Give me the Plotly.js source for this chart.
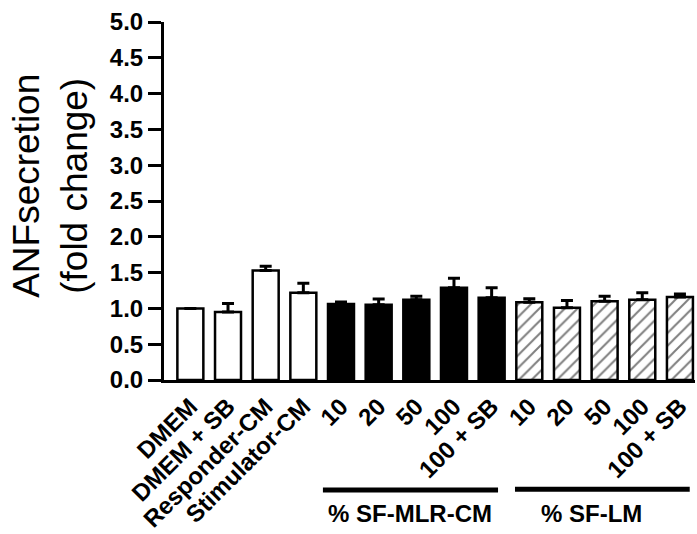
<!DOCTYPE html>
<html>
<head>
<meta charset="utf-8">
<script src="https://cdn.plot.ly/plotly-3.0.1.min.js"></script>
<style>html,body{margin:0;padding:0;background:#fff;}#chart{width:697px;height:534px;}</style>
</head>
<body>
<div id="chart"></div>
<script>
// Data
const tickLabels = ["DMEM", "DMEM + SB", "Responder-CM", "Stimulator-CM",
  "10", "20", "50", "100", "100 + SB",
  "10", "20", "50", "100", "100 + SB"];
const groups = ["control", "control", "control", "control",
  "mlr", "mlr", "mlr", "mlr", "mlr",
  "lm", "lm", "lm", "lm", "lm"];
const values = [1.00, 0.95, 1.53, 1.22, 1.06, 1.05, 1.12, 1.29, 1.15, 1.085, 1.01, 1.10, 1.12, 1.16];
const errors = [0.00, 0.12, 0.06, 0.13, 0.03, 0.08, 0.05, 0.13, 0.14, 0.05, 0.10, 0.07, 0.10, 0.04];
const groupLabels = ["% SF-MLR-CM", "% SF-LM"];

const xs = tickLabels.map((_, i) => i);
const styleFor = {
  control: {color: "#ffffff", shape: ""},
  mlr: {color: "#000000", shape: ""},
  lm: {color: "#ffffff", shape: "/"}
};

function idxOf(g) { return groups.map((v, i) => v === g ? i : -1).filter(i => i >= 0); }

const traces = ["control", "mlr", "lm"].map(g => {
  const idx = idxOf(g);
  const st = styleFor[g];
  const marker = {color: st.color, line: {color: "#000", width: 2.5}};
  if (st.shape) {
    marker.pattern = {shape: st.shape, fgcolor: "#000", bgcolor: "#fff", size: 9, solidity: 0.22, fillmode: "overlay"};
  }
  return {
    type: "bar",
    x: idx.map(i => xs[i]),
    y: idx.map(i => values[i]),
    width: 0.69,
    marker: marker,
    error_y: {
      type: "data",
      array: idx.map(i => errors[i]),
      arrayminus: idx.map(() => 0),
      symmetric: false,
      color: "#000",
      thickness: 3,
      width: 6
    },
    hoverinfo: "skip"
  };
});

const tickFont = {family: "Liberation Sans, Arial, sans-serif", size: 24, color: "#000", weight: "bold"};
const xTickFont = {family: "Liberation Sans, Arial, sans-serif", size: 24, color: "#000", weight: "bold"};
const groupFont = {family: "Liberation Sans, Arial, sans-serif", size: 24, color: "#000", weight: "bold"};

const mlrIdx = idxOf("mlr");
const lmIdx = idxOf("lm");
const mlrSpan = [mlrIdx[0] - 0.48, mlrIdx[mlrIdx.length - 1] + 0.17];
const lmSpan = [lmIdx[0] - 0.38, lmIdx[lmIdx.length - 1] + 0.26];

const layout = {
  width: 697,
  height: 534,
  margin: {l: 164, r: 2, t: 22, b: 154},
  paper_bgcolor: "#fff",
  plot_bgcolor: "#fff",
  showlegend: false,
  barmode: "overlay",
  xaxis: {
    range: [-0.7, 13.4],
    tickmode: "array",
    tickvals: xs,
    ticktext: tickLabels,
    tickangle: -45,
    tickfont: xTickFont,
    showline: true,
    linecolor: "#000",
    linewidth: 3,
    ticks: "",
    showgrid: false,
    zeroline: false,
    fixedrange: true
  },
  yaxis: {
    range: [0, 5],
    dtick: 0.5,
    tick0: 0,
    tickformat: ".1f",
    tickfont: tickFont,
    ticks: "outside",
    ticklen: 13,
    tickwidth: 3,
    tickcolor: "#000",
    showline: true,
    linecolor: "#000",
    linewidth: 3,
    showgrid: false,
    zeroline: false,
    fixedrange: true
  },
  shapes: [
    {type: "line", xref: "x", yref: "paper", x0: mlrSpan[0], x1: mlrSpan[1], y0: -0.307, y1: -0.307,
     line: {color: "#000", width: 5}},
    {type: "line", xref: "x", yref: "paper", x0: lmSpan[0], x1: lmSpan[1], y0: -0.305, y1: -0.305,
     line: {color: "#000", width: 5}}
  ],
  annotations: [
    {text: "ANFsecretion<br>(fold change)", xref: "paper", yref: "paper", x: -0.213, y: 0.542,
     showarrow: false, textangle: -90, xanchor: "center", yanchor: "middle",
     font: {family: "Liberation Sans, Arial, sans-serif", size: 37, color: "#000"}},
    {text: groupLabels[0], xref: "x", yref: "paper", x: (mlrSpan[0] + mlrSpan[1]) / 2, y: -0.374,
     showarrow: false, xanchor: "center", yanchor: "middle", font: groupFont},
    {text: groupLabels[1], xref: "x", yref: "paper", x: (lmSpan[0] + lmSpan[1]) / 2 - 0.3, y: -0.374,
     showarrow: false, xanchor: "center", yanchor: "middle", font: groupFont}
  ]
};

Plotly.newPlot("chart", traces, layout, {displayModeBar: false, staticPlot: true});
</script>
</body>
</html>
